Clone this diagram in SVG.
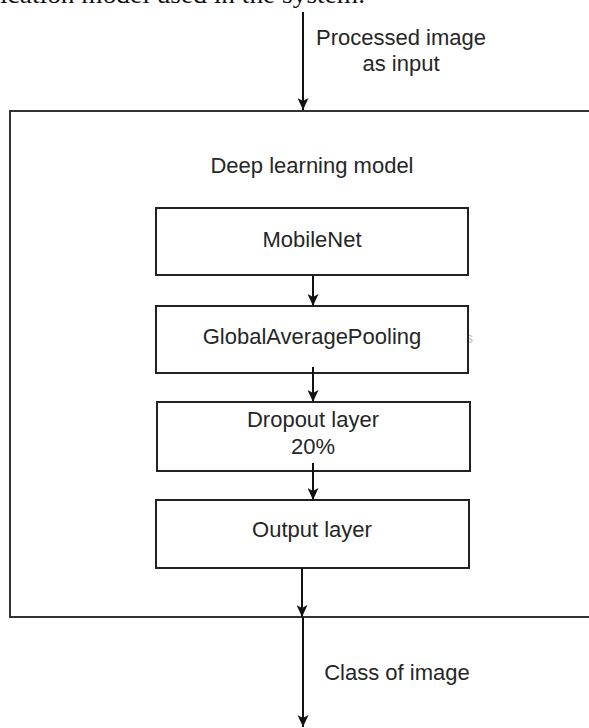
<svg xmlns="http://www.w3.org/2000/svg" width="589" height="728" viewBox="0 0 589 728">
<style>
.box{fill:#fff;stroke:#222;stroke-width:2}
.outer{fill:#fff;stroke:#333;stroke-width:2}
.t{font-family:"Liberation Sans",Arial,sans-serif;font-size:22px;fill:#262626;text-anchor:middle}
.edge{stroke:#111;stroke-width:2;fill:none;marker-end:url(#ah)}
</style>
<defs>
<marker id="ah" markerWidth="13" markerHeight="11" refX="12" refY="5.5" orient="auto" markerUnits="userSpaceOnUse" viewBox="0 0 13 11">
<path d="M0,0 L12,5.5 L0,11 L3,5.5 Z" fill="#111"/>
</marker>
</defs>
<rect width="589" height="728" fill="#fff"/>
<text x="0" y="3" font-family="'Liberation Serif','Times New Roman',serif" font-size="26" fill="#111" textLength="365" lengthAdjust="spacingAndGlyphs">ication model used in the system.</text>
<g id="outer">
<rect class="outer" x="10" y="111" width="600" height="506"/>
<text class="t" x="312" y="173">Deep learning model</text>
</g>
<text x="466" y="343" font-family="'Liberation Sans',Arial,sans-serif" font-size="14" fill="#bbb">s</text>
<g id="mobilenet">
<rect class="box" x="156" y="208" width="312" height="67"/>
<text class="t" x="312" y="247">MobileNet</text>
</g>
<g id="gap">
<rect class="box" x="156" y="306" width="312" height="67"/>
<text class="t" x="312" y="344">GlobalAveragePooling</text>
</g>
<g id="dropout">
<rect class="box" x="157" y="402" width="313" height="69"/>
<text class="t" x="313" y="427">Dropout layer</text>
<text class="t" x="313" y="454">20%</text>
</g>
<g id="output">
<rect class="box" x="156" y="500" width="313" height="68"/>
<text class="t" x="312" y="537">Output layer</text>
</g>
<g id="connectors">
<line class="edge" x1="303" y1="12" x2="303" y2="110"/>
<line class="edge" x1="313" y1="276" x2="313" y2="306"/>
<line class="edge" x1="313" y1="367" x2="313" y2="402"/>
<line class="edge" x1="313" y1="463" x2="313" y2="500"/>
<line class="edge" x1="302" y1="568" x2="302" y2="617"/>
<line class="edge" x1="303" y1="617" x2="303" y2="727"/>
</g>
<g id="labels">
<text class="t" x="401" y="45">Processed image</text>
<text class="t" x="401" y="71">as input</text>
<text class="t" x="397" y="680">Class of image</text>
</g>
</svg>
